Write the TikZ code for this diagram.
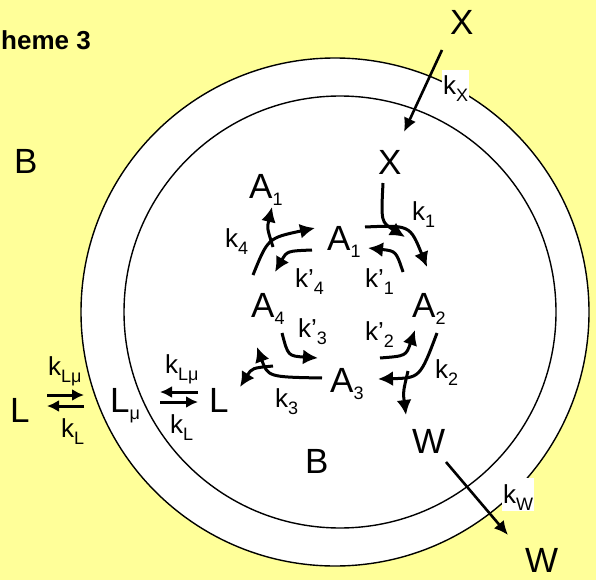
\documentclass[tikz,border=0pt]{standalone}
\usepackage{fontspec}
\setmainfont{Liberation Sans}
\usetikzlibrary{arrows.meta}
\definecolor{paleyellow}{HTML}{FFFF99}
\newcommand{\sub}[1]{\raisebox{-7pt}{\fontsize{18}{18}\selectfont #1}}

\begin{document}
\begin{tikzpicture}[x=1pt,y=-1pt,
  species/.style={anchor=base west,inner sep=0pt,font=\fontsize{35}{35}\selectfont},
  rate/.style={anchor=base west,inner sep=0pt,font=\fontsize{26}{26}\selectfont},
  ratebox/.style={rate,fill=white,inner sep=1pt,text height=24pt},
  flow/.style={line width=3pt,-{Latex[length=15pt,width=15pt]}},
  pair/.style={line width=3pt,-{Latex[length=12pt,width=12pt]}},
  wall/.style={draw=black,line width=1.4pt}
]
  % Background and the two membranes
  \fill[paleyellow] (0,0) rectangle (596,580);
  \useasboundingbox (0,0) rectangle (596,580);
  \filldraw[wall,fill=white] (335,312) circle[radius=254];
  \draw[wall] (340,312) circle[radius=216];

  \node[anchor=base west,inner sep=0pt,font=\fontsize{26}{26}\selectfont\bfseries] (title) at (1,50) {heme 3};

  % Species
  \node[species] (Xout) at (450,35) {X};
  \node[species] (Xin)  at (378,175) {X};
  \node[species] (A1top) at (249,198) {A\sub{1}};
  \node[species] (A1) at (327,250) {A\sub{1}};
  \node[species] (A2) at (412,317) {A\sub{2}};
  \node[species] (A4) at (251,317) {A\sub{4}};
  \node[species] (A3) at (330,392) {A\sub{3}};
  \node[species] (Lin)  at (209,412) {L};
  \node[species] (Lmu)  at (110,412) {L\sub{μ}};
  \node[species] (Lout) at (10,422) {L};
  \node[species] (Bout) at (14,173) {B};
  \node[species] (Bin)  at (305,473) {B};
  \node[species] (Win)  at (412,453) {W};
  \node[species] (Wout) at (525,572) {W};

  % Rate constants
  \node[ratebox] (kX) at (442,95) {k\sub{X}};
  \node[ratebox] (kW) at (502,503) {k\sub{W}};
  \node[rate] (k1)  at (412,220) {k\sub{1}};
  \node[rate] (k4)  at (225,247) {k\sub{4}};
  \node[rate] (kp4) at (295,287) {k’\sub{4}};
  \node[rate] (kp1) at (365,287) {k’\sub{1}};
  \node[rate] (kp3) at (298,337) {k’\sub{3}};
  \node[rate] (kp2) at (365,340) {k’\sub{2}};
  \node[rate] (k3)  at (275,407) {k\sub{3}};
  \node[rate] (k2)  at (435,378) {k\sub{2}};
  \node[rate] (kLmuOut) at (48,375) {k\sub{Lμ}};
  \node[rate] (kLOut)   at (61,437) {k\sub{L}};
  \node[rate] (kLmuIn)  at (165,373) {k\sub{Lμ}};
  \node[rate] (kLIn)    at (170,433) {k\sub{L}};

  % Ends of the connectors
  \coordinate (xa) at (442,50);  \coordinate (xb) at (404,132);
  \coordinate (wa) at (446,462); \coordinate (wb) at (508,535);
  \coordinate (ol) at (47,395);  \coordinate (or) at (84,395);
  \coordinate (ol2) at (47,406); \coordinate (or2) at (84,406);
  \coordinate (il) at (160,392); \coordinate (ir) at (198,392);
  \coordinate (il2) at (160,402); \coordinate (ir2) at (198,402);
  \coordinate (c4a) at (253,275); \coordinate (c4b) at (315,228);
  \coordinate (b4) at (273,247);  \coordinate (t4) at (272,207);
  \coordinate (p4a) at (312,250); \coordinate (p4b) at (275,272);
  \coordinate (xia) at (383,183); \coordinate (xib) at (405,237);
  \coordinate (c1a) at (365,227); \coordinate (c1b) at (427,267);
  \coordinate (p1a) at (403,272); \coordinate (p1b) at (368,248);
  \coordinate (p3a) at (282,333); \coordinate (p3b) at (318,358);
  \coordinate (c3a) at (322,378); \coordinate (c3b) at (257,347);
  \coordinate (b3) at (273,366);  \coordinate (t3) at (240,387);
  \coordinate (p2a) at (380,358); \coordinate (p2b) at (415,330);
  \coordinate (c2a) at (437,333); \coordinate (c2b) at (378,379);
  \coordinate (b2) at (408,371);  \coordinate (t2) at (406,415);

  % Transport across the walls
  \draw[line width=2.6pt,-{Latex[length=14pt,width=13pt]}] (xa) -- (xb);
  \draw[line width=2.6pt,-{Latex[length=14pt,width=13pt]}] (wa) -- (wb);
  \draw[pair] (ol) -- (or);
  \draw[pair] (or2) -- (ol2);
  \draw[pair] (ir) -- (il);
  \draw[pair] (il2) -- (ir2);

  % Cycle
  \draw[flow] (c4a) .. controls (268,238) .. (c4b);
  \draw[flow] (b4) .. controls (267,228) .. (t4);
  \draw[flow] (p4a) .. controls (287,251) .. (p4b);
  \draw[flow] (xia) .. controls (381,222) .. (xib);
  \draw[flow] (c1a) .. controls (410,225) .. (c1b);
  \draw[flow] (p1a) .. controls (396,251) .. (p1b);
  \draw[flow] (p3a) .. controls (288,356) .. (p3b);
  \draw[flow] (c3a) .. controls (268,377) .. (c3b);
  \draw[flow] (b3) .. controls (252,368) .. (t3);
  \draw[flow] (p2a) .. controls (406,356) .. (p2b);
  \draw[flow] (c2a) .. controls (420,378) .. (c2b);
  \draw[flow] (b2) .. controls (403,392) .. (t2);
\end{tikzpicture}
\end{document}
